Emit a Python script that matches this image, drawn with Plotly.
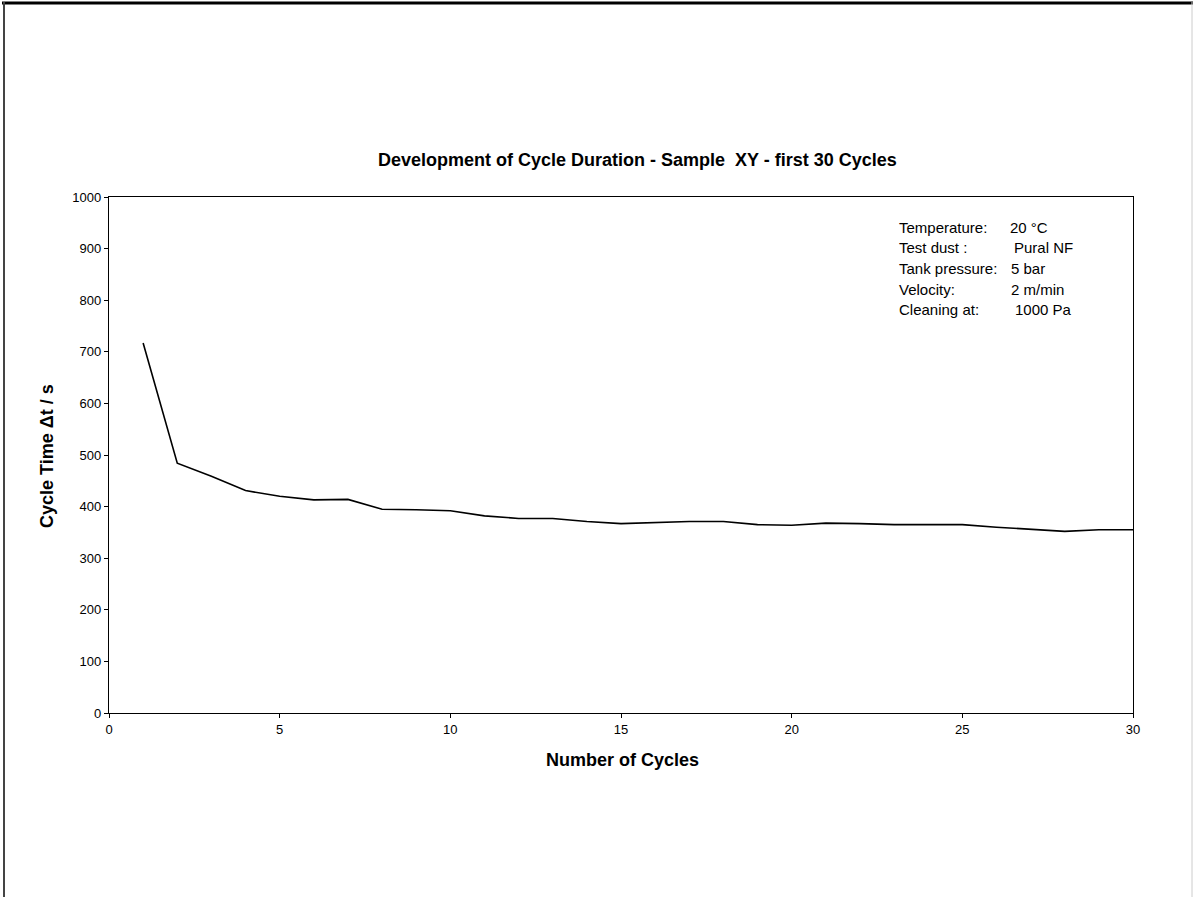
import plotly.graph_objects as go

# Cycle number and measured cycle duration (seconds)
cycles = list(range(1, 31))
cycle_time = [717, 484, 459, 431, 420, 413, 414, 395, 394, 392,
              382, 377, 377, 371, 367, 369, 371, 371, 365, 364,
              368, 367, 365, 365, 365, 360, 356, 352, 355, 355]

# Test conditions shown in the upper right
cond_labels = ["Temperature:", "Test dust :", "Tank pressure:", "Velocity:", "Cleaning at:"]
cond_values = ["20 °C", "Pural NF", "5 bar", "2 m/min", "1000 Pa"]
cond_value_x = [1008, 1012, 1009, 1009, 1013]  # pixel x of each value column entry
cond_y = [227, 248, 268, 289, 309]             # pixel y of each row

FONT = "Liberation Sans, Arial, sans-serif"
W, H = 1193, 897
L, R, T, B = 109, 60, 197, 184
PW, PH = W - L - R, H - T - B


def px_x(px):
    return (px - L) / PW


def px_y(py):
    return (H - B - py) / PH


fig = go.Figure()
fig.add_trace(go.Scatter(
    x=cycles, y=cycle_time, mode="lines",
    line=dict(color="black", width=1.6),
    showlegend=False, hoverinfo="x+y",
))

axis_common = dict(
    showgrid=False, zeroline=False, showline=True, linecolor="black", linewidth=1.3,
    mirror=True, ticks="outside", ticklen=4, tickcolor="black", tickwidth=1,
    tickfont=dict(family=FONT, size=13, color="black"),
)
fig.update_xaxes(range=[0, 30], tickvals=[0, 5, 10, 15, 20, 25, 30], **axis_common)
fig.update_yaxes(range=[0, 1000], dtick=100, **axis_common)

annotations = [
    dict(text="<b>Development of Cycle Duration - Sample  XY - first 30 Cycles</b>",
         x=px_x(637), y=px_y(160), xref="paper", yref="paper", showarrow=False,
         xanchor="center", yanchor="middle", font=dict(family=FONT, size=18, color="black")),
    dict(text="<b>Number of Cycles</b>",
         x=px_x(622), y=px_y(760), xref="paper", yref="paper", showarrow=False,
         xanchor="center", yanchor="middle", font=dict(family=FONT, size=18, color="black")),
    dict(text="<b>Cycle Time Δt / s</b>", textangle=-90,
         x=px_x(47), y=px_y(456), xref="paper", yref="paper", showarrow=False,
         xanchor="center", yanchor="middle", font=dict(family=FONT, size=18, color="black")),
]
for lab, val, vx, yy in zip(cond_labels, cond_values, cond_value_x, cond_y):
    annotations.append(dict(text=lab, x=px_x(897), y=px_y(yy), xref="paper", yref="paper",
                            showarrow=False, xanchor="left", yanchor="middle",
                            font=dict(family=FONT, size=15, color="black")))
    annotations.append(dict(text=val, x=px_x(vx), y=px_y(yy), xref="paper", yref="paper",
                            showarrow=False, xanchor="left", yanchor="middle",
                            font=dict(family=FONT, size=15, color="black")))

# Outer chart-area frame
shapes = [
    dict(type="line", xref="paper", yref="paper", x0=px_x(2), x1=px_x(1193),
         y0=px_y(3), y1=px_y(3), line=dict(color="black", width=3)),
    dict(type="line", xref="paper", yref="paper", x0=px_x(4), x1=px_x(4),
         y0=px_y(2), y1=px_y(900), line=dict(color="#444444", width=2)),
    dict(type="line", xref="paper", yref="paper", x0=px_x(1192), x1=px_x(1192),
         y0=px_y(2), y1=px_y(900), line=dict(color="#cccccc", width=1)),
]

fig.update_layout(
    width=W, height=H,
    margin=dict(l=L, r=R, t=T, b=B),
    paper_bgcolor="white", plot_bgcolor="white",
    annotations=annotations, shapes=shapes,
    font=dict(family=FONT, color="black"),
)

fig.write_html("out.html")
